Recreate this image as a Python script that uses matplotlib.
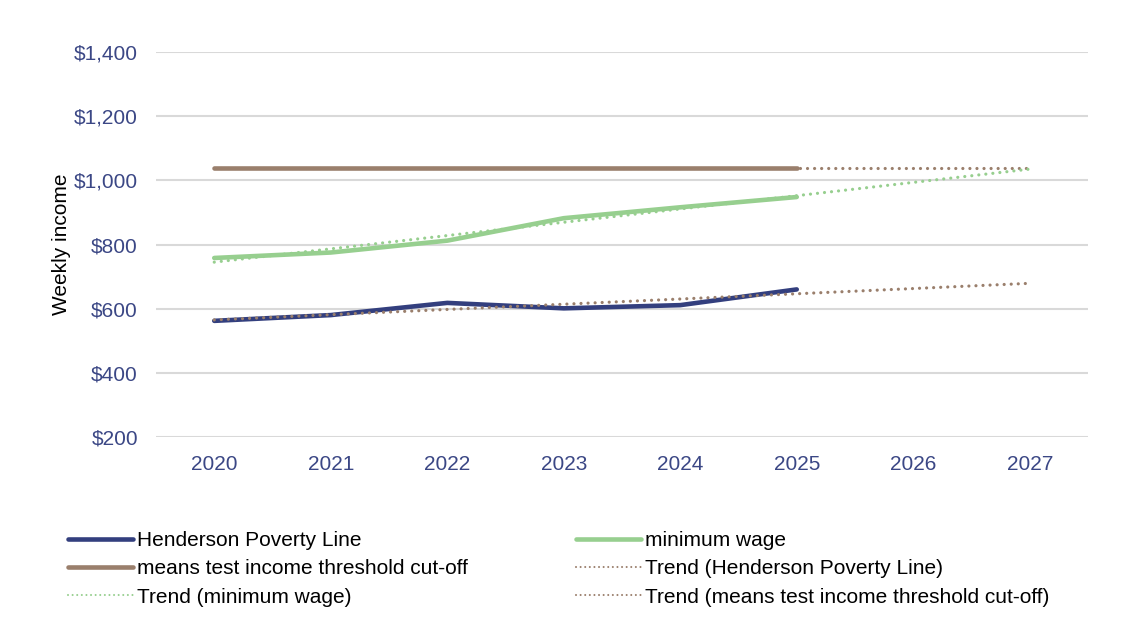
import matplotlib
matplotlib.use("Agg")
import matplotlib.pyplot as plt
from matplotlib.ticker import FuncFormatter

plt.rcParams['font.family'] = ['Liberation Sans', 'DejaVu Sans']

years = ["2020", "2021", "2022", "2023", "2024", "2025", "2026", "2027"]
hpl = [562, 580, 618, 601, 611, 660]
min_wage = [758, 775, 812, 882, 916, 948]
means_test = [1040, 1040, 1040, 1040, 1040, 1040]
# trend line endpoints (2020, 2027)
trend_hpl = [565, 679]
trend_mw = [745, 1035]
trend_mt = [1040, 1040]

c_blue = "#333F7E"
c_green = "#97CF8F"
c_brown = "#9A7F6C"
c_tick = "#3B4785"

fig = plt.figure(figsize=(11.21, 6.26), dpi=100)
ax = fig.add_axes([156/1121, 1-437/626, (1088-156)/1121, (437-52)/626])

x_data = list(range(len(hpl)))
x_trend = [0, len(years) - 1]

dot = (0, (0.01, 2.2))
l_hpl, = ax.plot(x_data, hpl, color=c_blue, lw=3.3, solid_capstyle='round', solid_joinstyle='round', zorder=3, label="Henderson Poverty Line")
l_mw, = ax.plot(x_data, min_wage, color=c_green, lw=3.3, solid_capstyle='round', solid_joinstyle='round', zorder=3, label="minimum wage")
l_mt, = ax.plot(x_data, means_test, color=c_brown, lw=3.3, solid_capstyle='round', zorder=3, label="means test income threshold cut-off")
t_hpl, = ax.plot(x_trend, trend_hpl, color=c_brown, lw=2.3, linestyle=dot, dash_capstyle='round', zorder=4, label="Trend (Henderson Poverty Line)")
t_mw, = ax.plot(x_trend, trend_mw, color=c_green, lw=2.3, linestyle=dot, dash_capstyle='round', zorder=4, label="Trend (minimum wage)")
t_mt, = ax.plot(x_trend, trend_mt, color=c_brown, lw=2.3, linestyle=dot, dash_capstyle='round', zorder=2, label="Trend (means test income threshold cut-off)")

ax.set_xlim(-0.5, len(years) - 0.5)
ax.set_ylim(200, 1400)
ax.set_xticks(range(len(years)))
ax.set_xticklabels(years)
ax.set_yticks(range(200, 1401, 200))
ax.yaxis.set_major_formatter(FuncFormatter(lambda v, p: "${:,.0f}".format(v)))
ax.tick_params(axis='both', length=0, labelsize=15, labelcolor=c_tick)
ax.tick_params(axis='x', pad=13)
ax.tick_params(axis='y', pad=13)
for s in ax.spines.values():
    s.set_visible(False)
ax.grid(axis='y', color='#D9D9D9', linewidth=1.5)
ax.set_axisbelow(True)
ax.set_ylabel("Weekly income", fontsize=15, color='black', labelpad=2)

handles = [l_hpl, l_mt, t_mw, l_mw, t_hpl, t_mt]
leg = fig.legend(handles=handles, labels=[h.get_label() for h in handles], ncol=2,
                 loc='upper left', bbox_to_anchor=(68/1121, 1-531/626),
                 frameon=False, fontsize=15, handlelength=3.1, handletextpad=0.2,
                 columnspacing=5.2, labelspacing=0.45, borderpad=0, borderaxespad=0)
for lh in leg.get_lines():
    if lh.get_linestyle() != '-':
        lh.set_linewidth(1.5)

fig.savefig("out.png", dpi=100)
